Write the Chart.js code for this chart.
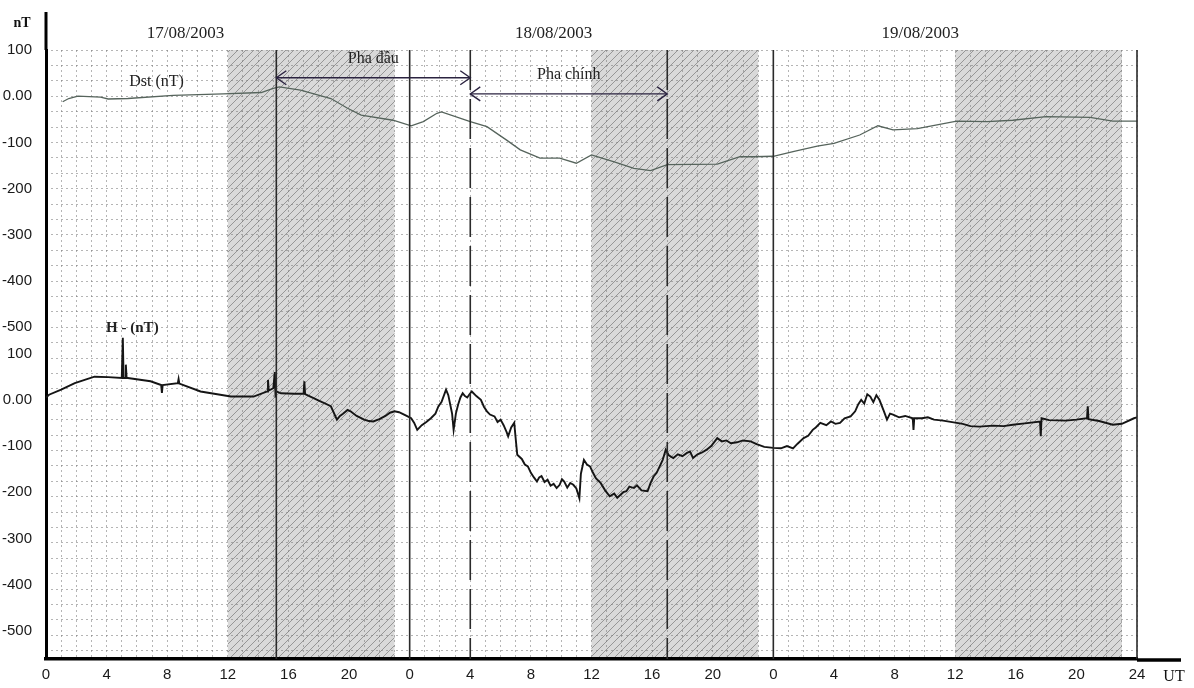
<!DOCTYPE html>
<html>
<head>
<meta charset="utf-8">
<script src="https://cdn.jsdelivr.net/npm/chart.js@4.4.1/dist/chart.umd.min.js"></script>
<style>
  html, body { margin: 0; padding: 0; background: #fff; }
  #wrap { width: 1194px; height: 688px; }
</style>
</head>
<body>
<div id="wrap"><canvas id="storm" width="1194" height="688"></canvas></div>
<script>
// Magnetic storm 17-19/08/2003: Dst index (upper panel) and H component (lower panel)
// x = hours since 17/08/2003 00 UT

const DST_HOURS = [1.1, 1.5, 2.1, 3.6, 4.1, 5.4, 8.4, 11.7, 14.2, 15.0, 15.4, 16.8, 18.8, 19.9, 20.8, 22.9,
  24.1, 24.9, 25.8, 26.1, 28.0, 29.1, 30.4, 31.3, 32.6, 33.9, 35.0, 36.0, 37.5, 38.8, 39.9, 41.0,
  44.3, 45.8, 46.7, 48.0, 49.3, 50.9, 52.0, 53.7, 54.9, 55.9, 57.5, 60.1, 62.1, 63.8, 66.0, 68.9, 70.4, 71.8, 72.0];
const DST_VALUES = [-12, -5, 0, -2, -6, -5, 2, 5, 8, 17, 20, 13, -5, -26, -41, -52,
  -64, -55, -37, -34, -55, -66, -95, -116, -134, -134, -145, -127, -142, -156, -161, -148,
  -147, -131, -131, -130, -120, -108, -102, -84, -64, -73, -70, -54, -55, -52, -44, -46, -54, -54, -54];

const H_HOURS = [0.0, 0.2, 1.0, 1.9, 3.2, 4.1, 5.0, 5.07, 5.12, 5.22, 5.27, 5.32, 5.4, 6.9, 7.6, 7.65, 7.7,
  8.7, 8.75, 8.8, 10.2, 12.2, 13.7, 14.6, 14.65, 14.7, 15.0, 15.1, 15.15, 15.2, 15.5, 16.4, 17.0, 17.05, 17.1,
  17.9, 18.8, 19.2, 19.4, 19.6, 19.9, 20.1, 20.5, 21.0, 21.3, 21.6, 22.0, 22.4, 22.7, 23.0, 23.3, 23.5, 23.8,
  24.1, 24.3, 24.5, 24.8, 25.1, 25.4, 25.7, 25.9, 26.1, 26.4, 26.55, 26.7, 26.8, 26.9, 27.05, 27.2, 27.35,
  27.5, 27.65, 27.8, 27.95, 28.1, 28.4, 28.7, 28.9, 29.1, 29.3, 29.6, 29.8, 30.0, 30.2, 30.4, 30.5, 30.7,
  30.9, 31.0, 31.1, 31.4, 31.6, 31.8, 32.0, 32.2, 32.4, 32.55, 32.7, 32.9, 33.1, 33.3, 33.5, 33.7, 33.9,
  34.05, 34.2, 34.4, 34.6, 34.8, 35.0, 35.2, 35.3, 35.5, 35.7, 35.9, 36.1, 36.3, 36.6, 36.9, 37.2, 37.5,
  37.7, 37.9, 38.1, 38.3, 38.5, 38.8, 39.0, 39.3, 39.7, 39.9, 40.1, 40.3, 40.5, 40.7, 40.9, 41.1, 41.4,
  41.7, 42.0, 42.3, 42.5, 42.7, 43.0, 43.3, 43.6, 43.9, 44.3, 44.6, 44.9, 45.2, 45.6, 46.0, 46.5, 46.9,
  47.4, 48.0, 48.5, 48.9, 49.3, 49.6, 50.0, 50.3, 50.6, 50.8, 51.1, 51.5, 51.8, 52.1, 52.4, 52.7, 53.1,
  53.4, 53.6, 53.8, 54.0, 54.2, 54.4, 54.6, 54.8, 55.0, 55.3, 55.5, 55.7, 55.9, 56.3, 56.7, 57.2, 57.25,
  57.3, 57.8, 58.2, 58.6, 59.2, 59.9, 60.5, 61.0, 61.6, 62.5, 63.2, 63.8, 64.6, 65.6, 65.65, 65.7, 66.2,
  67.3, 68.0, 68.7, 68.75, 68.8, 69.5, 70.4, 71.0, 71.8, 72.0];
const H_VALUES = [5, 11, 22, 36, 50, 49, 47, 134, 47, 47, 76, 47, 47, 40, 32, 15, 32,
  36, 45, 35, 18, 7, 7, 18, 43, 20, 25, 60, 5, 18, 14, 13, 13, 40, 12,
  0, -14, -43, -35, -30, -22, -25, -35, -43, -46, -47, -42, -35, -28, -25, -27, -30, -35,
  -40, -50, -65, -55, -48, -40, -30, -14, -5, 22, 10, -14, -30, -65, -30, -10, 5,
  14, 8, 5, 12, 18, 8, 0, -15, -25, -32, -36, -48, -43, -55, -70, -79, -60,
  -50, -85, -119, -128, -140, -144, -158, -168, -177, -168, -165, -178, -173, -186, -182, -191, -184,
  -172, -177, -190, -180, -184, -192, -213, -160, -130, -140, -144, -158, -170, -180, -196, -209, -203,
  -212, -206, -200, -198, -188, -191, -185, -196, -198, -180, -166, -158, -144, -130, -108, -120, -126,
  -118, -122, -115, -112, -126, -118, -114, -108, -100, -83, -90, -88, -94, -92, -88, -90, -96,
  -102, -104, -105, -100, -105, -95, -83, -78, -65, -60, -50, -55, -47, -52, -50, -40, -36,
  -25, -10, 0, -8, 12, 7, -5, 10, 0, -25, -43, -30, -32, -38, -35, -40, -65,
  -40, -40, -38, -43, -45, -49, -52, -57, -58, -56, -57, -54, -51, -47, -79, -40, -44,
  -45, -43, -40, -14, -42, -46, -54, -52, -40, -38];

// the H panel sits below the Dst panel on one shared axis
const H_OFFSET = -657;

const Y_TICK_VALUES = [100, 0, -100, -200, -300, -400, -500];
const Y_TICK_LABELS = ['100', '0.00', '-100', '-200', '-300', '-400', '-500'];
const X_TICK_LABELS = ['0', '4', '8', '12', '16', '20', '0', '4', '8', '12', '16', '20',
  '0', '4', '8', '12', '16', '20', '24'];

const DATE_LABELS = ['17/08/2003', '18/08/2003', '19/08/2003'];
const DATE_LABEL_HOURS = [9.2, 33.5, 57.7];

// night-time (shaded) intervals
const NIGHT_START = [12, 36, 60];
const NIGHT_END = [23, 47, 71];

const SOLID_MARKS = [15.2, 24, 48, 72];
const DASHED_MARKS = [28, 41];

const PHASE_NAMES = ['Pha đầu', 'Pha chính'];
const PHASE_START = [15.2, 28];
const PHASE_END = [28, 41];
const PHASE_LEVEL = [40, 5];

const Y_MIN = -1218, Y_MAX = 100;

function hatchPattern(ctx) {
  const c = document.createElement('canvas');
  c.width = 8; c.height = 8;
  const p = c.getContext('2d');
  p.fillStyle = 'rgba(150,150,150,0.36)';
  p.fillRect(0, 0, 8, 8);
  p.strokeStyle = 'rgba(90,90,90,0.52)';
  p.lineWidth = 1;
  p.beginPath();
  p.moveTo(0, 8); p.lineTo(8, 0);
  p.moveTo(-2, 2); p.lineTo(2, -2);
  p.moveTo(6, 10); p.lineTo(10, 6);
  p.stroke();
  return ctx.createPattern(c, 'repeat');
}

function arrowHead(ctx, x, y, dir) {
  ctx.beginPath();
  ctx.moveTo(x - dir * 10, y - 7);
  ctx.lineTo(x, y);
  ctx.lineTo(x - dir * 10, y + 7);
  ctx.stroke();
}

const nightPlugin = {
  id: 'nightShade',
  beforeDraw(chart) {
    const { ctx, chartArea, scales } = chart;
    const x = scales.x;
    ctx.save();
    ctx.fillStyle = hatchPattern(ctx);
    for (let i = 0; i < NIGHT_START.length; i++) {
      const x0 = x.getPixelForValue(NIGHT_START[i]);
      const x1 = x.getPixelForValue(NIGHT_END[i]);
      ctx.fillRect(x0, chartArea.top, x1 - x0, chartArea.bottom - chartArea.top);
    }
    ctx.restore();
  }
};

const markPlugin = {
  id: 'stormMarks',
  afterDatasetsDraw(chart) {
    const { ctx, chartArea, scales } = chart;
    const x = scales.x, y = scales.y;
    ctx.save();

    // event lines
    ctx.strokeStyle = '#2a2a2a';
    ctx.lineWidth = 1.6;
    SOLID_MARKS.forEach(h => {
      const px = x.getPixelForValue(h);
      ctx.beginPath();
      ctx.moveTo(px, chartArea.top);
      ctx.lineTo(px, chartArea.bottom);
      ctx.stroke();
    });
    ctx.setLineDash([40, 9]);
    DASHED_MARKS.forEach(h => {
      const px = x.getPixelForValue(h);
      ctx.beginPath();
      ctx.moveTo(px, chartArea.top);
      ctx.lineTo(px, chartArea.bottom);
      ctx.stroke();
    });
    ctx.setLineDash([]);

    // phase arrows
    ctx.strokeStyle = '#2b2340';
    ctx.lineWidth = 1.4;
    ctx.fillStyle = '#222';
    ctx.font = '16px "Liberation Serif"';
    ctx.textAlign = 'center';
    ctx.textBaseline = 'middle';
    for (let i = 0; i < PHASE_NAMES.length; i++) {
      const a = x.getPixelForValue(PHASE_START[i]);
      const b = x.getPixelForValue(PHASE_END[i]);
      const py = y.getPixelForValue(PHASE_LEVEL[i]);
      ctx.beginPath();
      ctx.moveTo(a, py);
      ctx.lineTo(b, py);
      ctx.stroke();
      arrowHead(ctx, a, py, -1);
      arrowHead(ctx, b, py, 1);
      ctx.fillText(PHASE_NAMES[i], (a + b) / 2, py - 19);
    }

    // series names
    ctx.font = '16px "Liberation Serif"';
    ctx.fillText('Dst (nT)', x.getPixelForValue(7.3), y.getPixelForValue(31));
    ctx.font = 'bold 15px "Liberation Serif"';
    ctx.fillText('H - (nT)', x.getPixelForValue(5.7), y.getPixelForValue(155 + H_OFFSET));

    // dates
    ctx.font = '17px "Liberation Serif"';
    for (let i = 0; i < DATE_LABELS.length; i++) {
      ctx.fillText(DATE_LABELS[i], x.getPixelForValue(DATE_LABEL_HOURS[i]), chartArea.top - 16);
    }

    // axis extensions and units
    ctx.strokeStyle = '#000';
    ctx.lineWidth = 3;
    ctx.beginPath();
    ctx.moveTo(chartArea.left, chartArea.top);
    ctx.lineTo(chartArea.left, 12);
    ctx.stroke();
    ctx.lineWidth = 3.5;
    ctx.beginPath();
    ctx.moveTo(chartArea.right, chartArea.bottom + 1);
    ctx.lineTo(1181, chartArea.bottom + 1);
    ctx.stroke();

    ctx.fillStyle = '#111';
    ctx.font = 'bold 14px "Liberation Serif"';
    ctx.fillText('nT', 22, 23);
    ctx.font = '16px "Liberation Serif"';
    ctx.fillText('UT', 1174, 677);
    ctx.restore();
  }
};

function gridTicks() {
  const out = [];
  for (let v = Y_MAX; v >= Y_MIN; v -= 100 / 3) out.push({ value: v });
  return out.reverse();
}

// y ticks: both panels' labels on the shared axis
const yTickMap = new Map();
Y_TICK_VALUES.forEach((v, i) => {
  yTickMap.set(v, Y_TICK_LABELS[i]);
  yTickMap.set(v + H_OFFSET, Y_TICK_LABELS[i]);
});

new Chart(document.getElementById('storm'), {
  type: 'line',
  data: {
    datasets: [
      {
        label: 'Dst (nT)',
        data: DST_HOURS.map((h, i) => ({ x: h, y: DST_VALUES[i] })),
        borderColor: '#56645c',
        borderWidth: 1.3,
        pointRadius: 0,
        tension: 0
      },
      {
        label: 'H - (nT)',
        data: H_HOURS.map((h, i) => ({ x: h, y: H_VALUES[i] + H_OFFSET })),
        borderColor: '#151515',
        borderWidth: 1.9,
        pointRadius: 0,
        tension: 0
      }
    ]
  },
  options: {
    responsive: false,
    animation: false,
    layout: { padding: { left: 0, top: 50, right: 57, bottom: 0 } },
    plugins: { legend: { display: false }, tooltip: { enabled: false } },
    scales: {
      x: {
        type: 'linear',
        min: 0,
        max: 72,
        afterFit: s => { s.height = 29; },
        ticks: {
          stepSize: 1,
          autoSkip: false,
          maxRotation: 0,
          padding: 7,
          color: '#1a1a1a',
          font: { family: 'Liberation Sans', size: 15 },
          callback: v => (v % 4 === 0 ? X_TICK_LABELS[v / 4] : '')
        },
        grid: { color: 'rgba(120,120,120,0.55)', lineWidth: 1, drawTicks: false },
        border: { display: true, color: '#000', width: 3.5, dash: [2, 3] }
      },
      y: {
        type: 'linear',
        position: 'left',
        min: Y_MIN,
        max: Y_MAX,
        afterFit: s => { s.width = 46; },
        afterBuildTicks: s => {
          s.ticks = Array.from(yTickMap.keys()).sort((a, b) => a - b).map(v => ({ value: v }));
        },
        ticks: {
          padding: 6,
          autoSkip: false,
          color: '#1a1a1a',
          font: { family: 'Liberation Sans', size: 15 },
          callback: v => yTickMap.get(v) || ''
        },
        grid: { display: false },
        border: { display: true, color: '#000', width: 3 }
      },
      yGrid: {
        type: 'linear',
        position: 'right',
        min: Y_MIN,
        max: Y_MAX,
        afterFit: s => { s.width = 0; },
        afterBuildTicks: s => { s.ticks = gridTicks(); },
        ticks: { display: false },
        grid: { color: 'rgba(120,120,120,0.55)', lineWidth: 1, drawTicks: false },
        border: { display: false, dash: [2, 3] }
      }
    }
  },
  plugins: [nightPlugin, markPlugin]
});
</script>
</body>
</html>
